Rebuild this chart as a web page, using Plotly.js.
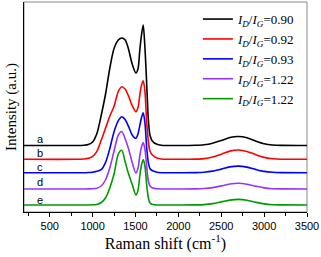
<!DOCTYPE html>
<html>
<head>
<meta charset="utf-8">
<script src="https://cdn.plot.ly/plotly-3.0.1.min.js"></script>
<style>html,body{margin:0;padding:0;background:#fff;}#chart{width:321px;height:257px;}</style>
</head>
<body>
<div id="chart"></div>
<script>
// Raman shift grid (cm-1)
var ramanShift = [200, 800, 900, 950, 1000, 1050, 1100, 1150, 1200, 1250, 1300, 1340, 1380, 1420, 1460, 1505, 1530, 1550, 1570, 1590, 1610, 1630, 1650, 1670, 1700, 1750, 1800, 2000, 2200, 2300, 2400, 2500, 2600, 2700, 2800, 2900, 3000, 3100, 3200, 3500];

// Intensities (a.u., stacked offsets as in the figure)
var specA = [66.5, 66.5, 66.8, 67.5, 70, 78.5, 96.5, 117.5, 143.5, 163.5, 172, 174, 172, 162.5, 148.5, 139, 143.5, 161.5, 177, 187, 164.5, 129.5, 92.5, 76.5, 70.5, 67.7, 66.8, 66.5, 66.7, 67.2, 68.8, 71.5, 74.5, 75.5, 74.2, 71, 68.3, 67, 66.6, 66.5];
var specB = [52.7, 52.7, 53, 53.7, 55.7, 60.7, 71.7, 83.7, 95.7, 105.7, 120.7, 125.3, 122.7, 115.7, 106.7, 100.3, 104.7, 116.7, 126.7, 131.3, 120.7, 90.7, 70.7, 60.7, 56.7, 53.9, 53, 52.7, 52.9, 53.4, 55, 57.8, 60.9, 62, 60.6, 57.4, 54.6, 53.3, 52.8, 52.7];
var specC = [39.3, 39.3, 39.3, 39.5, 39.8, 40.8, 42.3, 49.3, 63.3, 80.3, 91.3, 95.3, 92.3, 85.3, 77.3, 73.7, 78.3, 86.3, 94.3, 99.3, 89.3, 65.3, 49.3, 43.3, 41.3, 39.8, 39.3, 39.3, 39.4, 39.8, 40.9, 42.9, 45.1, 45.9, 44.9, 42.6, 40.6, 39.7, 39.4, 39.3];
var specD = [23, 23, 23, 23.1, 23.3, 23.8, 26, 32, 44, 61, 77, 80.5, 73, 63, 50, 39, 44, 56, 65, 69.5, 63, 46, 31, 26, 24, 23.2, 23, 23, 23.1, 23.5, 24.4, 26.1, 28, 28.7, 27.8, 25.9, 24.1, 23.3, 23.1, 23];
var specE = [7, 7, 7, 7, 7.2, 7.6, 9.5, 14, 24, 38, 58, 61.7, 50, 38, 28, 17, 22, 36, 47, 52.5, 46, 28, 14, 9, 7.6, 7, 7, 7, 7.1, 7.4, 8.4, 10.1, 11.9, 12.6, 11.8, 9.8, 8.1, 7.3, 7.1, 7];

var ratios = ["0.90", "0.92", "0.93", "1.22", "1.22"];
var curveLabels = ["a", "b", "c", "d", "e"];
var labelY = [73, 59, 45.3, 30.3, 12.3];

var series = [specA, specB, specC, specD, specE];
var colors = ["#000000", "#ff0000", "#0000ff", "#9933ff", "#009900"];

var SERIF = "Liberation Serif";
var SANS = "Liberation Sans";

var traces = series.map(function (s, i) {
  return {
    x: ramanShift, y: s, type: "scatter", mode: "lines",
    line: {color: colors[i], width: 1.6, shape: "spline", smoothing: 0.8},
    name: "<i>I</i><sub><i>D</i></sub>/<i>I</i><sub><i>G</i></sub>=" + ratios[i]
  };
});

var annotations = curveLabels.map(function (t, i) {
  return {x: 390, y: labelY[i], xref: "x", yref: "y", text: t, showarrow: false,
    font: {family: SANS, size: 11, color: "#000"}};
});

var layout = {
  width: 321, height: 257,
  margin: {l: 24, r: 14, t: 2, b: 45},
  paper_bgcolor: "#fff", plot_bgcolor: "#fff",
  showlegend: true,
  legend: {x: 0.975, xanchor: "right", y: 0.99, yanchor: "top", bgcolor: "rgba(0,0,0,0)",
    font: {family: SERIF, size: 13, color: "#000"},
    tracegroupgap: 0, itemwidth: 30},
  xaxis: {
    range: [200, 3500], showgrid: false, zeroline: false,
    showline: true, linecolor: "#000", linewidth: 1,
    ticks: "outside", ticklen: 4, tickcolor: "#000", tick0: 500, dtick: 500,
    minor: {ticks: "outside", ticklen: 3, dtick: 250, tick0: 250, tickcolor: "#000"},
    tickfont: {family: SANS, size: 11, color: "#000"},
    title: {text: "Raman shift (cm<sup>-1</sup>)", standoff: 6,
      font: {family: SERIF, size: 16, color: "#000"}}
  },
  yaxis: {
    range: [0, 210], showgrid: false, zeroline: false,
    showline: true, linecolor: "#000", linewidth: 1,
    ticks: "", showticklabels: false,
    title: {text: "Intensity (a.u.)", standoff: 2,
      font: {family: SERIF, size: 15, color: "#000"}}
  },
  shapes: [{type: "rect", xref: "paper", yref: "paper", x0: 0, x1: 1, y0: 0, y1: 1,
    line: {color: "#888", width: 1}, layer: "below"}],
  annotations: annotations
};

Plotly.newPlot("chart", traces, layout, {displayModeBar: false, staticPlot: true});
</script>
</body>
</html>
